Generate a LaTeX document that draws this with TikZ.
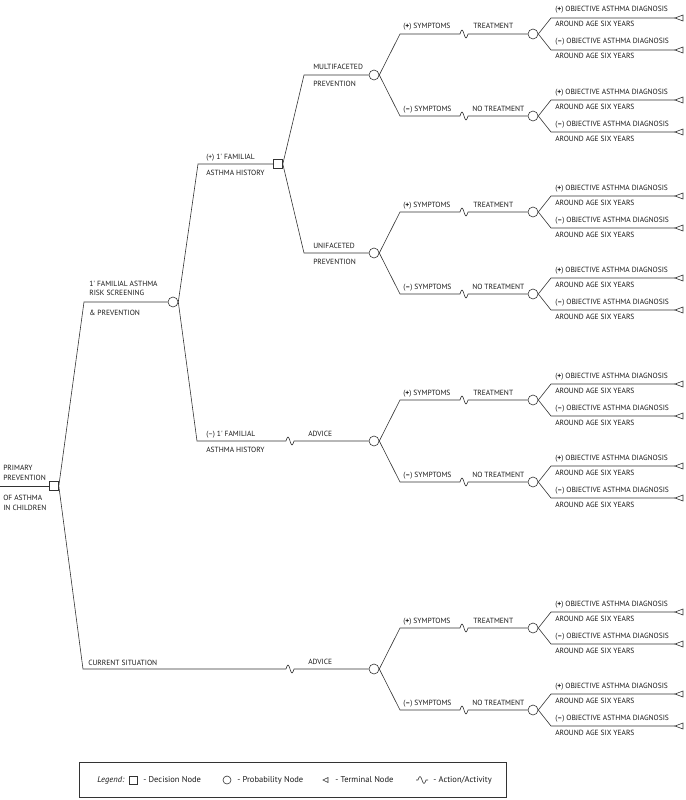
\documentclass[tikz,border=0pt]{standalone}
\usepackage{fontspec}
\setmainfont{PT Sans}
\usetikzlibrary{calc}

\tikzset{
  decision/.style={draw, rectangle, minimum size=9pt, inner sep=0pt},
  chance/.style={draw, circle, minimum size=10pt, inner sep=0pt},
  lbl/.style={anchor=base west, inner sep=0pt, text=black!90, font=\fontsize{7.5}{8}\selectfont},
  lgd/.style={anchor=west, inner sep=0pt, text=black!90, font=\fontsize{8.5}{9}\selectfont},
}
\newcommand{\actwave}{sin ++(2,-4) cos ++(2,4) sin ++(2,4) cos ++(2,-4)}

\begin{document}
\begin{tikzpicture}[x=1pt, y=-1pt, line width=0.6pt, draw=black!80]
  \useasboundingbox (0,0) rectangle (685,800);
  % decision and chance nodes
  \node[decision] (root) at (54,486) {};
  \node[chance] (screen) at (173,302) {};
  \node[decision] (famplus) at (278,164) {};
  \node[chance] (multi) at (374,75) {};
  \node[chance] (uni) at (374,253) {};
  \node[chance] (advfam) at (374,441) {};
  \node[chance] (advcur) at (374,669) {};
  % corners and actions
  \coordinate (in) at (0,486);
  \coordinate (screenL) at (84,302);
  \coordinate (curL) at (83,669);
  \coordinate (famplusL) at (198,164);
  \coordinate (famminusL) at (197,441);
  \coordinate (multiL) at (304,75);
  \coordinate (uniL) at (304,253);
  \coordinate (wfam) at (286,441);
  \coordinate (wcur) at (286,669);
  % branches
  \draw (in) -- (root.west);
  \draw (root.east) -- (screenL) -- (screen.west);
  \draw (root.east) -- (curL) -- (wcur) \actwave -- (advcur.west);
  \draw (screen.east) -- (famplusL) -- (famplus.west);
  \draw (screen.east) -- (famminusL) -- (wfam) \actwave -- (advfam.west);
  \draw (famplus.east) -- (multiL) -- (multi.west);
  \draw (famplus.east) -- (uniL) -- (uni.west);
  % labels
  \node[lbl] (rootA) at (3,470) {PRIMARY};
  \node[lbl] (rootB) at (3,480) {PREVENTION};
  \node[lbl] (rootC) at (3,500) {OF ASTHMA};
  \node[lbl] (rootD) at (3,510) {IN CHILDREN};
  \node[lbl] (screenA) at (89,286) {1\textquotesingle{} FAMILIAL ASTHMA};
  \node[lbl] (screenB) at (89,295.5) {RISK SCREENING};
  \node[lbl] (screenC) at (89,315) {\& PREVENTION};
  \node[lbl] (curA) at (88,665) {CURRENT SITUATION};
  \node[lbl] (famplusA) at (206,159) {(+) 1\textquotesingle{} FAMILIAL};
  \node[lbl] (famplusB) at (206,175) {ASTHMA HISTORY};
  \node[lbl] (famminusA) at (206,436) {(–) 1\textquotesingle{} FAMILIAL};
  \node[lbl] (famminusB) at (206,452) {ASTHMA HISTORY};
  \node[lbl] (advfamA) at (308,436) {ADVICE};
  \node[lbl] (advcurA) at (308,664) {ADVICE};
  \node[lbl] (multiA) at (313,70) {MULTIFACETED};
  \node[lbl] (multiB) at (313,86) {PREVENTION};
  \node[lbl] (uniA) at (313,248) {UNIFACETED};
  \node[lbl] (uniB) at (313,264) {PREVENTION};
  % symptoms, treatment and outcomes
  \foreach \p in {multi, uni, advfam, advcur} {
    \coordinate (\p-ps) at ($(\p)+(26,-41)$);
    \coordinate (\p-ms) at ($(\p)+(26,41)$);
    \coordinate (\p-pw) at ($(\p)+(86,-41)$);
    \coordinate (\p-mw) at ($(\p)+(86,41)$);
    \node[chance] (\p-pt) at ($(\p)+(159,-41)$) {};
    \node[chance] (\p-mt) at ($(\p)+(159,41)$) {};
    \draw (\p.east) -- (\p-ps) -- (\p-pw) \actwave -- (\p-pt.west);
    \draw (\p.east) -- (\p-ms) -- (\p-mw) \actwave -- (\p-mt.west);
    \node[lbl] (\p-psA) at ($(\p-ps)+(3,-5)$) {(\textbf{+}) SYMPTOMS};
    \node[lbl] (\p-msA) at ($(\p-ms)+(3,-5)$) {(\textbf{–}) SYMPTOMS};
    \node[lbl] (\p-pwA) at ($(\p-pw)+(13,-5)$) {TREATMENT};
    \node[lbl] (\p-mwA) at ($(\p-mw)+(12,-5)$) {NO TREATMENT};
    \foreach \q in {pt, mt} {
      \coordinate (\p-\q-a) at ($(\p-\q)+(18,-16)$);
      \coordinate (\p-\q-ae) at ($(\p-\q)+(142,-16)$);
      \coordinate (\p-\q-b) at ($(\p-\q)+(18,16)$);
      \coordinate (\p-\q-be) at ($(\p-\q)+(142,16)$);
      \draw (\p-\q.east) -- (\p-\q-a) -- (\p-\q-ae);
      \draw (\p-\q.east) -- (\p-\q-b) -- (\p-\q-be);
      \draw (\p-\q-ae) -- ++(8,-3) -- ++(0,6) -- cycle;
      \draw (\p-\q-be) -- ++(8,-3) -- ++(0,6) -- cycle;
      \node[lbl] (\p-\q-aA) at ($(\p-\q-a)+(4,-6)$) {(\textbf{+}) OBJECTIVE ASTHMA DIAGNOSIS};
      \node[lbl] (\p-\q-aB) at ($(\p-\q-a)+(4,9)$) {AROUND AGE SIX YEARS};
      \node[lbl] (\p-\q-bA) at ($(\p-\q-b)+(4,-6)$) {(\textbf{–}) OBJECTIVE ASTHMA DIAGNOSIS};
      \node[lbl] (\p-\q-bB) at ($(\p-\q-b)+(4,9)$) {AROUND AGE SIX YEARS};
    }
  }
  % legend
  \draw (79,762) rectangle (506,797);
  \node[lgd] (lgtitle) at (97,780) {\textit{Legend:}};
  \node[decision, minimum size=8pt] (lgdec) at (133,780) {};
  \node[lgd] (lgdecA) at (143,780) {- Decision Node};
  \node[chance, minimum size=8pt] (lgchance) at (227,780) {};
  \node[lgd] (lgchanceA) at (237,780) {- Probability Node};
  \coordinate (lgterm) at (323,780);
  \draw (lgterm) -- ++(5,-2.5) -- ++(0,5) -- cycle;
  \node[lgd] (lgtermA) at (335,780) {- Terminal Node};
  \coordinate (lgact) at (416,780);
  \draw (lgact) -- ++(2,0) sin ++(2,-3.5) cos ++(2,3.5) sin ++(2,3.5) cos ++(2,-3.5) -- ++(2,0);
  \node[lgd] (lgactA) at (433,780) {- Action/Activity};
\end{tikzpicture}
\end{document}
